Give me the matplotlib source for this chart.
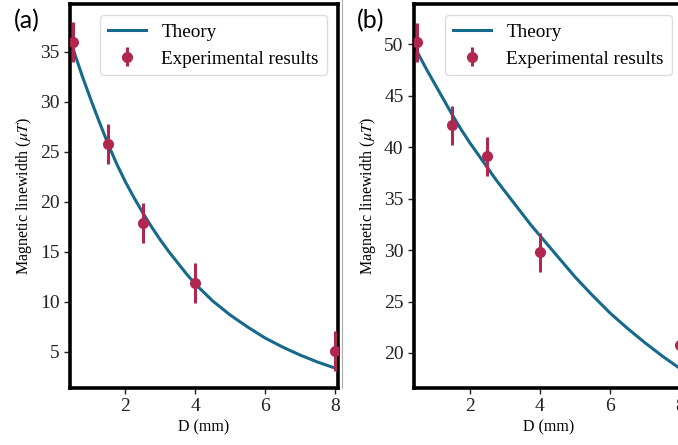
import matplotlib
matplotlib.use("Agg")
import matplotlib.pyplot as plt
from matplotlib.lines import Line2D

plt.rcParams['font.family'] = ['Liberation Serif', 'DejaVu Serif']
plt.rcParams['mathtext.fontset'] = 'stix'

# measured points
d_exp = [0.5, 1.5, 2.5, 4.0, 8.0]
lw_a = [36.0, 25.8, 17.9, 11.9, 5.1]
err_a = [2.0, 2.0, 2.0, 2.0, 2.0]
lw_b = [50.2, 42.1, 39.1, 29.8, 20.8]
err_b = [1.9, 1.9, 1.9, 1.9, 1.9]

# theory curves
d_th = [0.4, 0.5, 0.75, 1.0, 1.25, 1.5, 1.75, 2.0, 2.25, 2.5, 2.75, 3.0, 3.25, 3.5, 3.75, 4.0,
        4.5, 5.0, 5.5, 6.0, 6.5, 7.0, 7.5, 8.0, 8.1]
th_a = [36.3, 35.3, 32.7, 30.3, 28.0, 25.8, 23.8, 22.0, 20.4, 18.9, 17.5, 16.2, 15.0, 13.9, 12.8, 11.8,
        10.1, 8.7, 7.5, 6.4, 5.5, 4.7, 4.0, 3.4, 3.3]
th_b = [49.9, 49.2, 47.6, 46.1, 44.6, 43.1, 41.7, 40.4, 39.2, 38.0, 36.8, 35.7, 34.6, 33.5, 32.4, 31.4,
        29.4, 27.4, 25.6, 23.9, 22.4, 21.0, 19.7, 18.5, 18.3]

line_col = '#156a8c'
pt_col = '#b02850'

W, H = 678, 445
fig = plt.figure(figsize=(W / 100, H / 100), dpi=100)

panels = [
    (70, 338, th_a, lw_a, err_a, (0.41, 8.09), (1.4, 39.8), [5, 10, 15, 20, 25, 30, 35], '(a)', 14),
    (414, 683, th_b, lw_b, err_b, (0.40, 8.09), (16.6, 53.9), [20, 25, 30, 35, 40, 45, 50], '(b)', 357),
]

for left, right, th, ye, er, xl, yl, yt, tag, tx in panels:
    ax = fig.add_axes([left / W, (H - 388) / H, (right - left) / W, 384 / H])
    ax.plot(d_th, th, color=line_col, lw=2.2, label='Theory', zorder=2,
            solid_joinstyle='round')
    ax.errorbar(d_exp, ye, yerr=er, fmt='o', color=pt_col, ms=7,
                elinewidth=2.2, capsize=0, label='Experimental results', zorder=3)
    ax.set_xlim(*xl)
    ax.set_ylim(*yl)
    ax.set_xticks([2, 4, 6, 8])
    ax.set_yticks(yt)
    ax.tick_params(labelsize=14, colors='#222222', length=4, width=1)
    for s in ax.spines.values():
        s.set_linewidth(2.6)
        s.set_color('black')
    ax.set_xlabel('D (mm)', fontsize=11.5, labelpad=3)
    ax.set_ylabel(r'Magnetic linewidth ($\mu T$)', fontsize=11.5, labelpad=4)
    leg = ax.legend(loc='upper right', fontsize=13.8, borderaxespad=0.6,
                    handlelength=2.0, framealpha=1)
    leg.get_frame().set_edgecolor('#dddddd')
    fig.text(tx / W, 1 - 21 / H, tag, fontsize=18, family=['Lato', 'DejaVu Sans'],
             va='center', ha='left')

# thin border left over from the screenshot crop
fig.add_artist(Line2D([342 / W, 342 / W], [1, (H - 388) / H], color='#aaaaaa', lw=0.8))

fig.savefig('out.png', dpi=100)
